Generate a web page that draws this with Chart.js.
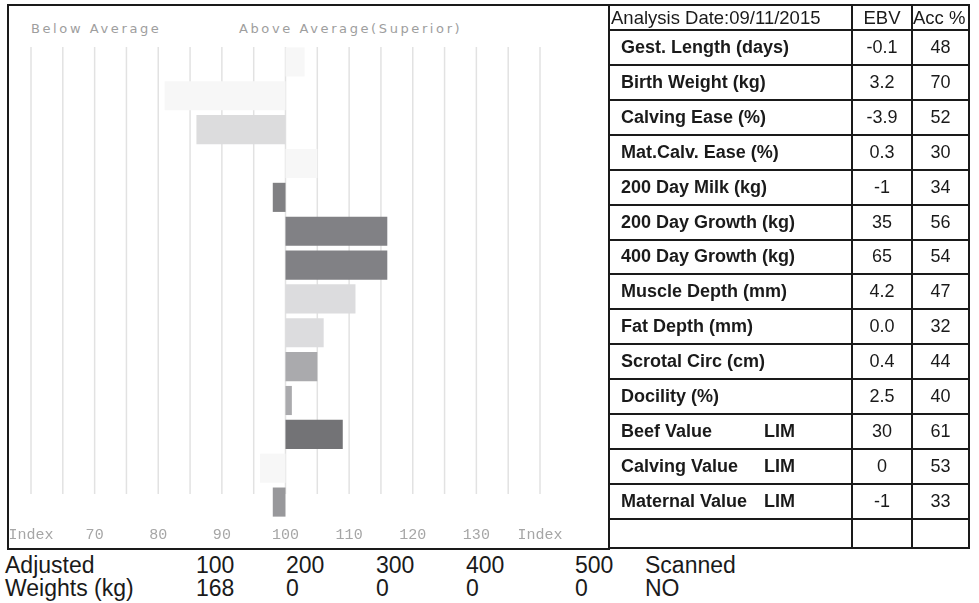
<!DOCTYPE html>
<html>
<head>
<meta charset="utf-8">
<script src="https://cdn.jsdelivr.net/npm/chart.js@4.4.0/dist/chart.umd.min.js"></script>
<style>
  body { margin: 0; background: #fff; width: 979px; height: 603px; overflow: hidden; position: relative;
         font-family: "Liberation Sans", Arial, sans-serif; color: #1a1a1a; }
  #frame { position: absolute; left: 7px; top: 4px; width: 601px; height: 542px;
           border: 2px solid #1a1a1a; border-right: none; }
  #chartBox { position: absolute; left: 0; top: 0; width: 609px; height: 548px; }
  .cap { position: absolute; top: 21px; font-family: "DejaVu Sans", Verdana, sans-serif; font-size: 13px;
         color: #9e9e9e; letter-spacing: 2.6px; white-space: nowrap; }
  table { position: absolute; left: 608px; top: 4px; border-collapse: collapse; table-layout: fixed; }
  td { border: 2px solid #1a1a1a; padding: 0; font-size: 18px; white-space: nowrap; overflow: hidden; }
  tr.head { height: 25px; }
  tr.head td { font-size: 18.5px; }
  tr.body { height: 34.93px; }
  tr.empty { height: 29px; }
  td.name { font-weight: bold; padding-left: 11px; }
  td.num { text-align: center; }
  .lim { display: inline-block; width: 143px; }
  .low { position: absolute; font-size: 23px; white-space: nowrap; }
</style>
</head>
<body>
<div id="frame"></div>
<div class="cap" style="left:31px">Below Average</div>
<div class="cap" style="left:239px">Above Average(Superior)</div>
<div id="chartBox"><canvas id="chart"></canvas></div>
<table id="ebvTable"></table>
<div id="bottom"></div>

<script>
const analysisDate = '09/11/2015';
const traits = [
  'Gest. Length (days)', 'Birth Weight (kg)', 'Calving Ease (%)', 'Mat.Calv. Ease (%)',
  '200 Day Milk (kg)', '200 Day Growth (kg)', '400 Day Growth (kg)', 'Muscle Depth (mm)',
  'Fat Depth (mm)', 'Scrotal Circ (cm)', 'Docility (%)', 'Beef Value', 'Calving Value', 'Maternal Value'
];
const breedTag = ['', '', '', '', '', '', '', '', '', '', '', 'LIM', 'LIM', 'LIM'];
const ebv = ['-0.1', '3.2', '-3.9', '0.3', '-1', '35', '65', '4.2', '0.0', '0.4', '2.5', '30', '0', '-1'];
const acc = [48, 70, 52, 30, 34, 56, 54, 47, 32, 44, 40, 61, 53, 33];

// index bars, floating from the breed average (100)
const baseIndex = 100;
const indexValues = [103, 81, 86, 105, 98, 116, 116, 111, 106, 105, 101, 109, 96, 98];
const barColors = [
  '#f7f7f7', '#f7f7f7', '#dcdcdd', '#f7f7f7', '#808083', '#818185', '#818185',
  '#dcdcde', '#dcdcde', '#aaaaad', '#aaaaad', '#737376', '#f7f7f7', '#98989b'
];

const tickValues = [60, 70, 80, 90, 100, 110, 120, 130, 140];
const tickLabels = ['Index', '70', '80', '90', '100', '110', '120', '130', 'Index'];
const gridValues = [60, 65, 70, 75, 80, 85, 90, 95, 100, 105, 110, 115, 120, 125, 130, 135, 140];

const weightAges = ['100', '200', '300', '400', '500'];
const weights = ['168', '0', '0', '0', '0'];
const scanned = 'NO';

// table
const table = document.querySelector('#ebvTable');
let rows = `<colgroup><col style="width:243px"><col style="width:60px"><col style="width:57px"></colgroup>
  <tr class="head"><td style="padding-left:1px">Analysis Date:${analysisDate}</td>
  <td class="num">EBV</td><td class="num" style="text-align:left">Acc %</td></tr>`;
traits.forEach((t, i) => {
  const name = breedTag[i] ? `<span class="lim">${t}</span>${breedTag[i]}` : t;
  rows += `<tr class="body"><td class="name">${name}</td><td class="num">${ebv[i]}</td><td class="num">${acc[i]}</td></tr>`;
});
rows += `<tr class="empty"><td></td><td></td><td></td></tr>`;
table.innerHTML = rows;

// adjusted weights under the chart
const bottom = document.querySelector('#bottom');
const colX = [196, 286, 376, 466, 575];
let html = `<div class="low" style="left:5px;top:552px">Adjusted</div>
  <div class="low" style="left:5px;top:575px">Weights (kg)</div>`;
weightAges.forEach((a, i) => {
  html += `<div class="low" style="left:${colX[i]}px;top:552px">${a}</div>`;
  html += `<div class="low" style="left:${colX[i]}px;top:575px">${weights[i]}</div>`;
});
html += `<div class="low" style="left:645px;top:552px">Scanned</div>
  <div class="low" style="left:645px;top:575px">${scanned}</div>`;
bottom.innerHTML = html;

// vertical grid lines stop a little above the last bar
const indexGrid = {
  id: 'indexGrid',
  beforeDatasetsDraw(chart) {
    const { ctx, chartArea, scales: { x, y } } = chart;
    const lineEnd = y.getPixelForValue(traits.length - 1) - 8;
    ctx.save();
    ctx.strokeStyle = '#e2e2e2';
    ctx.lineWidth = 1.5;
    gridValues.forEach(v => {
      const px = x.getPixelForValue(v);
      ctx.beginPath();
      ctx.moveTo(px, chartArea.top + 2);
      ctx.lineTo(px, lineEnd);
      ctx.stroke();
    });
    ctx.restore();
  }
};

new Chart(document.querySelector('#chart'), {
  type: 'bar',
  data: {
    labels: traits,
    datasets: [{
      data: indexValues.map(v => [baseIndex, v]),
      backgroundColor: barColors,
      borderWidth: 0,
      barPercentage: 0.86,
      categoryPercentage: 1
    }]
  },
  options: {
    indexAxis: 'y',
    responsive: true,
    maintainAspectRatio: false,
    animation: false,
    layout: { padding: { left: 31, right: 69, top: 45, bottom: 0 } },
    plugins: { legend: { display: false }, tooltip: { enabled: false } },
    scales: {
      x: {
        min: 60,
        max: 140,
        grid: { display: false, drawTicks: false },
        border: { display: false },
        afterBuildTicks: scale => { scale.ticks = tickValues.map(v => ({ value: v })); },
        afterFit: scale => { scale.height = 29; },
        ticks: {
          autoSkip: false,
          maxRotation: 0,
          padding: 7,
          color: '#a6a6a6',
          font: { family: 'Liberation Mono', size: 15 },
          callback: (v, i) => tickLabels[i]
        }
      },
      y: { display: false }
    }
  },
  plugins: [indexGrid]
});
</script>
</body>
</html>
